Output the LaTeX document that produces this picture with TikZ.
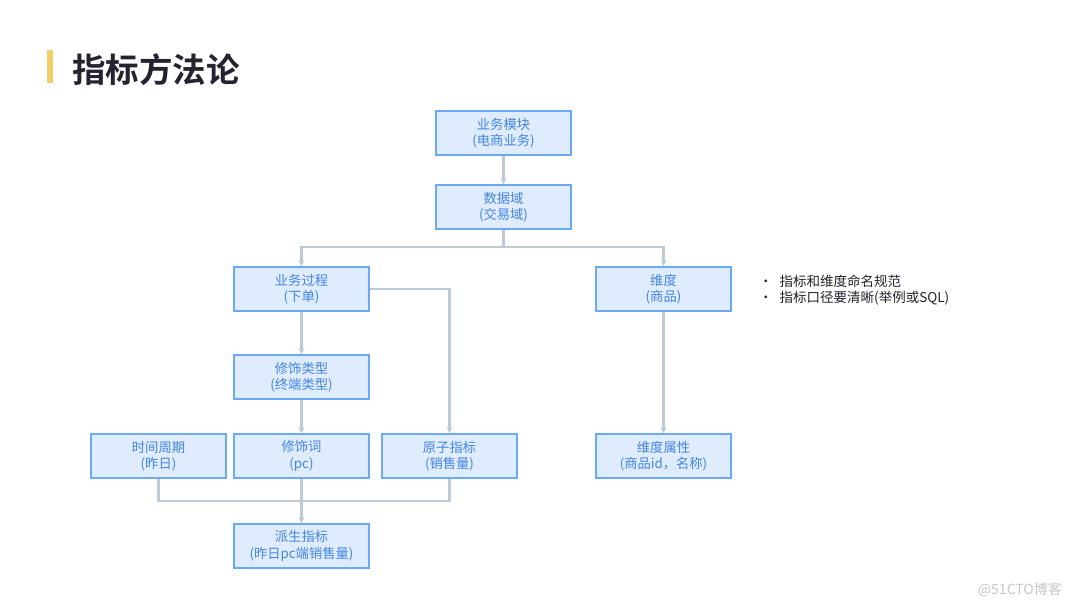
\documentclass[tikz,border=0pt]{standalone}
\usepackage{fontspec}
\newfontfamily\cjk{Noto Sans CJK SC}[BoldFont={Noto Sans CJK SC Bold}]
\usetikzlibrary{arrows.meta}
\definecolor{boxfill}{HTML}{DEECFD}
\definecolor{boxline}{HTML}{6AA9F4}
\definecolor{boxtext}{HTML}{4485E6}
\definecolor{conn}{HTML}{BFCAD8}
\definecolor{titlec}{HTML}{24232F}
\definecolor{barc}{HTML}{F3CD6A}
\tikzset{
  box/.style={draw=boxline, fill=boxfill, line width=1.6pt, minimum width=135pt, minimum height=44pt,
    inner sep=0pt, align=center, font=\cjk\fontsize{13.3}{16.3}\selectfont, text=boxtext},
  conline/.style={draw=conn, line width=2.1pt},
  conarrow/.style={conline, -{Stealth[length=6pt,width=6pt]}},
  note/.style={anchor=west, inner sep=0pt, text=titlec, font=\cjk\fontsize{13.5}{16}\selectfont}
}
\begin{document}
\begin{tikzpicture}[x=1pt,y=-1pt]
\useasboundingbox[fill=white] (0,0) rectangle (1080,608);
% title
\fill[barc] (47,50) rectangle (52.5,83);
\node[anchor=west, inner sep=0pt, text=titlec, font=\cjk\bfseries\fontsize{33.5}{38}\selectfont] (title) at (72,70) {指标方法论};
% boxes
\node[box] (mod) at (503.5,133) {业务模块\\(电商业务)};
\node[box] (dom) at (503.5,207) {数据域\\(交易域)};
\node[box] (proc) at (301.5,289) {业务过程\\(下单)};
\node[box] (dim) at (663.5,289) {维度\\(商品)};
\node[box] (modt) at (301.5,377) {修饰类型\\(终端类型)};
\node[box] (time) at (158.5,456) {时间周期\\(昨日)};
\node[box] (modw) at (301.5,456) {修饰词\\(pc)};
\node[box] (atom) at (449.5,456) {原子指标\\(销售量)};
\node[box] (attr) at (663.5,456) {维度属性\\(商品id，名称)};
\node[box] (der) at (301.5,546) {派生指标\\(昨日pc端销售量)};
% connectors
\coordinate (split) at (503.5,247);
\coordinate (merge) at (301.5,501);
\draw[conarrow] (mod) -- (dom);
\draw[conline] (dom) -- (split);
\draw[conarrow] (split) -| (proc.north);
\draw[conarrow] (split) -| (dim.north);
\draw[conarrow] (proc) -- (modt);
\draw[conarrow] (modt) -- (modw);
\draw[conarrow] (proc.east) -| (atom.north);
\draw[conarrow] (dim) -- (attr);
\draw[conline] (time.south) |- (merge);
\draw[conline] (atom.south) |- (merge);
\draw[conarrow] (modw) -- (der);
% notes
\node[note] (n1) at (759,281) {•\hspace{7pt}指标和维度命名规范};
\node[note] (n2) at (759,298) {•\hspace{7pt}指标口径要清晰(举例或SQL)};
% watermark
\node[anchor=east, inner sep=0pt, text=black!22, font=\cjk\fontsize{14}{16}\selectfont] (wm) at (1062,590) {@51CTO博客};
\end{tikzpicture}
\end{document}
